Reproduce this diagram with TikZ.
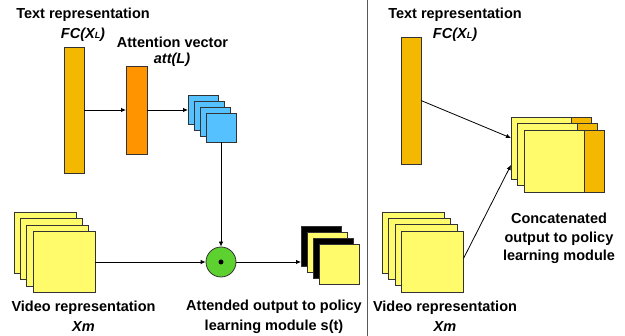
\documentclass[tikz,border=0pt]{standalone}
\usepackage{fontspec}
\setmainfont{Liberation Sans}
\usetikzlibrary{arrows.meta}
\definecolor{gold}{HTML}{F5B800}
\definecolor{attor}{HTML}{FF9300}
\definecolor{sky}{HTML}{56C1FF}
\definecolor{lemon}{HTML}{FFFB6A}
\definecolor{lime}{HTML}{5DD12F}
\definecolor{edgec}{HTML}{333333}
\tikzset{
  box/.style={draw=edgec, line width=0.8pt, inner sep=0pt, outer sep=0pt, rectangle},
  bar/.style={box, fill=gold, minimum width=20pt},
  vsq/.style={box, fill=lemon, minimum width=62pt, minimum height=61pt},
  bsq/.style={box, fill=sky, minimum width=30pt, minimum height=29pt},
  osq/.style={box, minimum width=40pt, minimum height=40pt},
  lbl/.style={font=\fontsize{14.5}{20}\selectfont\bfseries, align=center, inner sep=0pt},
  conn/.style={line width=0.8pt, draw=black},
  arr/.style={conn, -{Latex[length=5pt,width=4.5pt]}},
}
\newcommand{\fcxl}{\textit{FC(X{\fontsize{9}{9}\selectfont L})}}
\begin{document}
\begin{tikzpicture}[x=1pt,y=1pt]
\useasboundingbox (0,0) rectangle (625,-336);
% divider
\coordinate (dtop) at (367,0);
\coordinate (dbot) at (367,-336);
\draw[line width=1pt, draw=black!65] (dtop) -- (dbot);

% ---------- left panel ----------
\node[lbl] (ltitle) at (83,-15) {Text representation};
\node[lbl] (lfc) at (83,-35) {\fcxl};
\node[lbl] (atitle) at (172.5,-42) {Attention vector};
\node[lbl] (aatt) at (172,-60) {\textit{att(L)}};

\node[bar, minimum height=126pt] (ltb) at (74,-110) {};
\node[box, fill=attor, minimum width=21pt, minimum height=88pt] (att) at (136.5,-110) {};

\node[bsq] (b1) at (203,-110) {};
\node[bsq] (b2) at (209,-116) {};
\node[bsq] (b3) at (215,-122) {};
\node[bsq] (b4) at (221,-128) {};

\node[vsq] (v1) at (45,-243) {};
\node[vsq] (v2) at (51.33,-249.33) {};
\node[vsq] (v3) at (57.67,-255.67) {};
\node[vsq] (v4) at (64,-262) {};

\node[circle, draw=edgec, line width=0.8pt, fill=lime, minimum size=30pt, inner sep=0pt] (circ) at (221,-262) {};
\node[circle, fill=black, minimum size=5pt, inner sep=0pt] (dot) at (circ.center) {};

\node[osq, fill=black] (o1) at (321,-246) {};
\node[osq, fill=lemon] (o2) at (327,-252) {};
\node[osq, fill=black] (o3) at (333,-258) {};
\node[osq, fill=lemon] (o4) at (339,-264) {};

\draw[arr] (ltb.east) -- (att.west);
\draw[arr] (att.east) -- (b1.west);
\draw[arr] (b4.south) -- (circ.north);
\draw[arr] (v4.east) -- (circ.west);
\draw[arr] (circ.east) -- (circ.east -| o1.west);

\node[lbl] (lvid) at (83.5,-316) {Video representation\\\textit{Xm}};
\node[lbl] (latt) at (274,-317) {Attended output to policy\\learning module s(t)};

% ---------- right panel ----------
\node[lbl] (rtitle) at (455,-25) {Text representation\\\fcxl};
\node[bar, minimum height=127pt] (rtb) at (411,-100.5) {};

\node[box, fill=gold, minimum width=20pt, minimum height=62pt] (c1o) at (581,-148) {};
\node[box, fill=lemon, minimum width=60pt, minimum height=62pt] (c1y) at (541,-148) {};
\node[box, fill=gold, minimum width=20pt, minimum height=62pt] (c2o) at (587.5,-154.5) {};
\node[box, fill=lemon, minimum width=60pt, minimum height=62pt] (c2y) at (547.5,-154.5) {};
\node[box, fill=gold, minimum width=20pt, minimum height=62pt] (c3o) at (594,-161) {};
\node[box, fill=lemon, minimum width=60pt, minimum height=62pt] (c3y) at (554,-161) {};

\node[vsq] (w1) at (413.5,-242.5) {};
\node[vsq] (w2) at (419.83,-248.83) {};
\node[vsq] (w3) at (426.17,-255.17) {};
\node[vsq] (w4) at (432.5,-261.5) {};

\draw[arr] (rtb.east) -- ([yshift=10pt]c1y.west);
\draw[arr] ([yshift=3pt]w4.east) -- ([yshift=-17pt]c1y.west);

\node[lbl, font=\fontsize{14.5}{18.5}\selectfont\bfseries] (rcat) at (559,-238.5) {Concatenated\\output to policy\\learning module};
\node[lbl] (rvid) at (445,-316) {Video representation\\\textit{Xm}};
\end{tikzpicture}
\end{document}
